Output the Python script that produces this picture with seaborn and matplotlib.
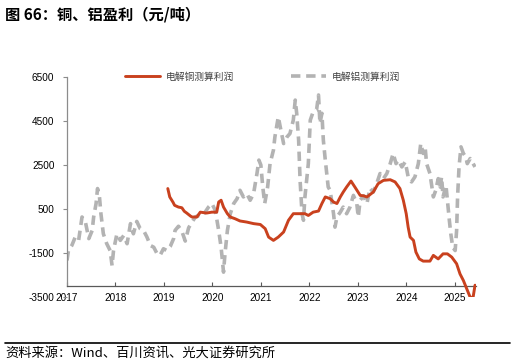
import matplotlib
matplotlib.use("Agg")
import matplotlib.pyplot as plt
import seaborn as sns
import pandas as pd

# ---- data (decimal years, CNY/ton) ----
al_years = [2017.00, 2017.03, 2017.10, 2017.17, 2017.24, 2017.31, 2017.38, 2017.45, 2017.52, 2017.55,
            2017.60, 2017.63, 2017.67, 2017.70, 2017.75, 2017.82, 2017.89, 2017.93, 2017.96, 2018.03,
            2018.10, 2018.17, 2018.24, 2018.31, 2018.37, 2018.44, 2018.51, 2018.58, 2018.65, 2018.72,
            2018.79, 2018.86, 2018.92, 2018.99, 2019.06, 2019.13, 2019.20, 2019.23, 2019.30, 2019.37,
            2019.44, 2019.51, 2019.58, 2019.65, 2019.71, 2019.78, 2019.85, 2019.92, 2019.99, 2020.06,
            2020.13, 2020.18, 2020.23, 2020.26, 2020.31, 2020.37, 2020.44, 2020.51, 2020.57, 2020.64,
            2020.71, 2020.78, 2020.85, 2020.92, 2020.96, 2021.00, 2021.04, 2021.08, 2021.14, 2021.19,
            2021.26, 2021.29, 2021.36, 2021.40, 2021.47, 2021.54, 2021.60, 2021.67, 2021.71, 2021.74,
            2021.78, 2021.81, 2021.85, 2021.88, 2021.91, 2021.98, 2022.02, 2022.08, 2022.15, 2022.19,
            2022.22, 2022.26, 2022.29, 2022.33, 2022.36, 2022.39, 2022.43, 2022.46, 2022.50, 2022.53,
            2022.57, 2022.64, 2022.70, 2022.77, 2022.84, 2022.91, 2022.98, 2023.01, 2023.05, 2023.12,
            2023.19, 2023.25, 2023.32, 2023.39, 2023.46, 2023.53, 2023.60, 2023.67, 2023.73, 2023.79,
            2023.84, 2023.91, 2023.98, 2024.04, 2024.11, 2024.18, 2024.25, 2024.30, 2024.35, 2024.39,
            2024.42, 2024.49, 2024.53, 2024.56, 2024.61, 2024.66, 2024.70, 2024.73, 2024.76, 2024.82,
            2024.85, 2024.89, 2024.92, 2024.96, 2025.01, 2025.04, 2025.06, 2025.09, 2025.13, 2025.18,
            2025.23, 2025.26, 2025.32, 2025.38, 2025.42]
al_profit = [-1830, -1380, -1150, -770, -920, 140, -90, -840, -470, 140,
             750, 1430, 1050, 290, -620, -1070, -1380, -2060, -1380, -620,
             -920, -700, -1070, -160, -620, -60, -390, -470, -770, -1150,
             -1230, -1530, -1600, -1300, -1380, -1200, -840, -470, -280, -500,
             -950, -350, -90, 140, 210, 140, 360, 590, 750, 440,
             -470, -1230, -2360, -1530, -470, 290, 750, 970, 1350, 1050,
             1200, 900, 1200, 2110, 2720, 2500, 1500, 750, 1500, 2560,
             3170, 3770, 4680, 4230, 3470, 3770, 3920, 4530, 5440, 4840,
             3620, 1800, 290, -10, 1050, 2560, 4530, 4910, 4990, 5670,
             4380, 4840, 3620, 2720, 2110, 1500, 1350, 900, 290, -320,
             140, 360, 590, 290, 590, 1120, 750, 140, 900, 1100,
             750, 1450, 1270, 1650, 2110, 1880, 2110, 2560, 3020, 2560,
             2720, 2410, 2640, 1960, 1730, 1960, 2560, 3470, 3020, 3320,
             2560, 2110, 1500, 1050, 1350, 1880, 1500, 1960, 1050, 1580,
             900, -10, -620, -1230, -1380, -470, 1050, 2410, 3320, 3020,
             2860, 2560, 2790, 2560, 2410]

cu_years = [2019.08, 2019.12, 2019.19, 2019.22, 2019.30, 2019.37, 2019.42, 2019.47, 2019.55, 2019.58,
            2019.68, 2019.75, 2019.88, 2019.99, 2020.09, 2020.13, 2020.18, 2020.23, 2020.31, 2020.37,
            2020.47, 2020.57, 2020.71, 2020.85, 2020.99, 2021.09, 2021.16, 2021.26, 2021.36, 2021.47,
            2021.57, 2021.67, 2021.81, 2021.91, 2021.98, 2022.08, 2022.19, 2022.26, 2022.33, 2022.43,
            2022.50, 2022.57, 2022.64, 2022.70, 2022.77, 2022.86, 2022.94, 2023.05, 2023.12, 2023.19,
            2023.32, 2023.42, 2023.53, 2023.67, 2023.77, 2023.87, 2023.94, 2024.00, 2024.04, 2024.08,
            2024.15, 2024.20, 2024.27, 2024.35, 2024.49, 2024.56, 2024.66, 2024.76, 2024.85, 2024.94,
            2025.04, 2025.11, 2025.18, 2025.25, 2025.32, 2025.38, 2025.42]
cu_profit = [1430, 1050, 800, 670, 590, 560, 400, 320, 180, 140,
             140, 360, 320, 360, 360, 820, 900, 590, 290, 140,
             60, -40, -90, -160, -200, -390, -770, -920, -770, -540,
             -10, 290, 290, 290, 210, 360, 410, 750, 1050, 970,
             820, 750, 1050, 1270, 1500, 1770, 1500, 1120, 1100, 1050,
             1270, 1650, 1800, 1830, 1730, 1430, 900, 290, -320, -770,
             -920, -1450, -1760, -1860, -1860, -1600, -1760, -1530, -1530, -1680,
             -1980, -2440, -2740, -3120, -3500, -3500, -2950]

series_names = ["电解铜测算利润", "电解铝测算利润"]
y_ticks = [-3500, -1500, 500, 2500, 4500, 6500]
x_ticks = [2017, 2018, 2019, 2020, 2021, 2022, 2023, 2024, 2025]

title_text = "图 66：铜、铝盈利（元/吨）"
source_text = "资料来源：Wind、百川资讯、光大证券研究所"

RED = "#C9411E"
GRAY = "#B3B3B3"

sns.set_theme(style="white")
plt.rcParams["font.family"] = ["Noto Sans CJK SC", "DejaVu Sans"]

fig = plt.figure(figsize=(5.16, 3.64), dpi=100)
ax = fig.add_axes([67 / 516, (364 - 297.3) / 364, (476 - 67) / 516, (297.3 - 76.7) / 364])

al_df = pd.DataFrame({"year": al_years, "profit": al_profit})
cu_df = pd.DataFrame({"year": cu_years, "profit": cu_profit})

sns.lineplot(data=al_df, x="year", y="profit", ax=ax, color=GRAY, linewidth=2.6,
             label=series_names[1], zorder=2)
ax.lines[-1].set_dashes((2.6, 1.6))
sns.lineplot(data=cu_df, x="year", y="profit", ax=ax, color=RED, linewidth=2.1,
             label=series_names[0], zorder=3)

ax.set_xlim(2017, 2025.44)
ax.set_ylim(-3500, 6500)
ax.set_xlabel("")
ax.set_ylabel("")

for s in ["top", "right"]:
    ax.spines[s].set_visible(False)
ax.spines["left"].set_color("#8C8C8C")
ax.spines["left"].set_linewidth(0.9)
ax.spines["left"].set_bounds(-3000, 6500)
ax.spines["bottom"].set_position(("data", -3000))
ax.spines["bottom"].set_color("#595959")
ax.spines["bottom"].set_linewidth(0.9)

ax.set_yticks(y_ticks)
ax.set_yticklabels([str(v) for v in y_ticks], fontfamily="Liberation Sans")
ax.set_xticks(x_ticks)
ax.set_xticklabels([str(v) for v in x_ticks], fontfamily="Liberation Sans")
ax.tick_params(axis="y", left=True, direction="out", length=3, width=0.8, color="#8C8C8C",
               labelsize=7.2, pad=6, labelcolor="#000000")
ax.tick_params(axis="x", bottom=True, direction="in", length=3, width=0.8, color="#595959",
               labelsize=7.2, pad=5, labelcolor="#000000")

handles, labels = ax.get_legend_handles_labels()
order = [labels.index(series_names[0]), labels.index(series_names[1])]
leg = ax.legend([handles[i] for i in order], [labels[i] for i in order],
                loc="center", bbox_to_anchor=(0.478, 1.0), ncol=2, frameon=False,
                fontsize=7, handlelength=3.6, columnspacing=5.8, handletextpad=0.6,
                labelcolor="#404040")

fig.text(5 / 516, 1 - 14 / 364, title_text, fontsize=11, fontweight="bold",
         ha="left", va="center", color="#000000")
fig.add_artist(plt.Line2D([5 / 516, 510 / 516], [1 - 343.3 / 364, 1 - 343.3 / 364],
                          color="black", linewidth=1.2, transform=fig.transFigure))
fig.text(5 / 516, 1 - 353 / 364, source_text, fontsize=9.5, ha="left", va="center",
         color="#000000")

fig.savefig("out.png", dpi=100)
